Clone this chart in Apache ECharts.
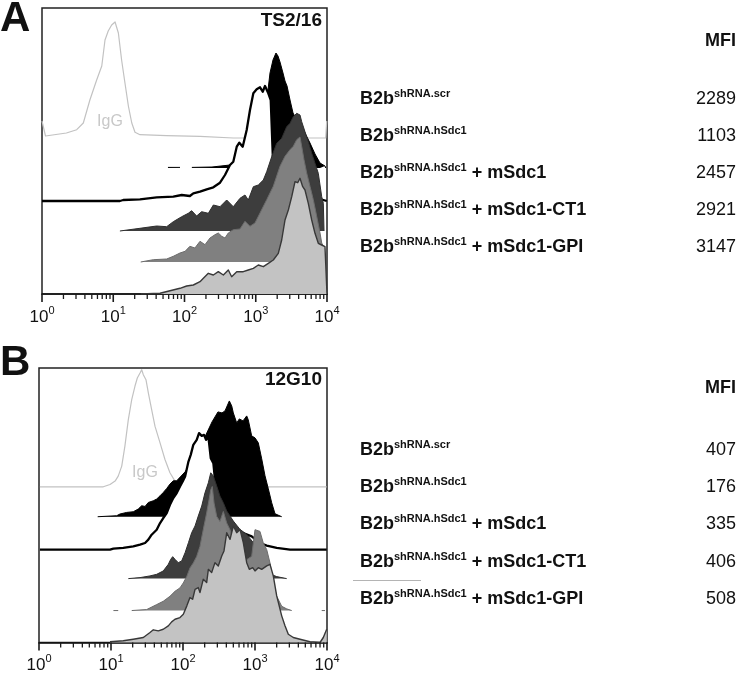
<!DOCTYPE html>
<html>
<head>
<meta charset="utf-8">
<script src="https://cdn.jsdelivr.net/npm/echarts@6/dist/echarts.min.js"></script>
<style>html,body{margin:0;padding:0;background:#fff}#c{width:745px;height:674px}</style>
</head>
<body>
<div id="c"></div>
<script>
// ---------------- data ----------------
const decadeTicks = [1, 10, 100, 1000, 10000];
const minorTickValues = [2,3,4,5,6,7,8,9,20,30,40,50,60,70,80,90,200,300,400,500,600,700,800,900,2000,3000,4000,5000,6000,7000,8000,9000];
const panelLetters = ['A', 'B'];
const antibodies = ['TS2/16', '12G10'];
const rowBase = 'B2b';
const rowSup = ['shRNA.scr', 'shRNA.hSdc1', 'shRNA.hSdc1', 'shRNA.hSdc1', 'shRNA.hSdc1'];
const rowSuffix = ['', '', ' + mSdc1', ' + mSdc1-CT1', ' + mSdc1-GPI'];
const mfiA = [2289, 1103, 2457, 2921, 3147];
const mfiB = [407, 176, 335, 406, 508];
// vertical offsets of the stacked histograms (IgG, scr, hSdc1, +mSdc1, +CT1, +GPI)
const offsetsA = [156, 126, 93, 63, 32, 0];
const offsetsB = [156, 126, 93, 64, 32, 0];

// Panel A histograms: [fluorescence, count]
const A_igg = [[1.0,17],[1.12,2],[2.2,5],[3.07,8.3],[3.8,15],[4.7,38],[5.85,58],[6.9,72],[7.66,98],[8.5,107],[9.5,113],[10.6,116],[11.8,105],[13.1,78],[14.6,55],[16.3,32],[18.2,15],[20.2,5.7],[23.7,3.3],[56,2.3],[165,1.7],[484,0],[9600,0],[9906,17]];
const A_scr = [[58.6,0.6],[86.5,0.6],[100,null],[127,0.6],[243,1],[435,3],[706,8],[975,20],[1224,45],[1393,65],[1486,78],[1585,95],[1746,108],[1923,115],[2052,112],[2189,106],[2412,95],[2574,87],[2747,82],[3027,68],[3336,55],[3797,48],[4178,45],[4909,35],[5773,25],[6787,14],[7977,5],[9370,2],[9600,0]];
const A_hsdc1 = [[1,0],[12.4,0],[13.8,1],[23.7,1.7],[40.7,3.7],[69.6,4.3],[91.4,6],[119,5],[133,7.7],[165,9.3],[205,11.7],[254,13.7],[315,18.3],[370,26],[435,36],[484,39.3],[541,54.3],[588,58.3],[656,54.3],[746,71],[830,91],[925,107.7],[1030,111.7],[1148,113.7],[1253,109.3],[1349,115],[1500,107.7],[1622,101],[1746,40],[2052,25],[3027,10],[4909,5],[7977,2],[9906,0]];
const A_msdc1 = [[12.4,0],[23.7,2.7],[40.7,5],[56.2,4.3],[69.6,9.3],[91.4,14.3],[113,17.7],[126,20.3],[148,15],[174,19.3],[216,17.7],[254,26],[315,24.3],[391,31],[484,24.3],[601,32.7],[706,36],[786,31],[925,44.3],[1086,46],[1277,51],[1425,59.3],[1675,74.3],[1967,87.7],[2312,92.7],[2719,104.3],[3027,107.7],[3365,114.3],[3756,117.7],[4178,116],[4415,109.3],[4909,99.3],[5466,89.3],[6100,77.7],[6787,67.7],[7551,57.7],[8428,34.3],[8879,27.7],[9081,0]];
const A_ct1 = [[24.3,0],[36.5,2.3],[56.2,3],[69.6,5.7],[86.5,9],[102,10.7],[119,15.7],[140,14],[165,20.7],[194,17.3],[228,24],[268,27.3],[298,29],[333,25.7],[370,24],[412,29],[484,32.3],[601,33],[706,40.7],[830,35.7],[975,39],[1148,49],[1425,62.3],[1763,75.7],[2189,95.7],[2574,105.7],[3027,112.3],[3365,115.7],[3756,122.3],[4178,125],[4415,115.7],[4755,102.3],[5187,89],[5773,75.7],[6425,62.3],[7168,45.7],[7977,29],[8428,19],[8879,15.7],[9081,0]];
const A_gpi = [[24.3,0],[45.3,0.7],[62.6,3.3],[86.5,5.7],[107,8],[133,9],[165,12.3],[184,15.7],[216,20.7],[254,19],[298,22.3],[351,19],[412,24],[459,17.3],[541,22.3],[668,22.3],[786,24],[925,25.7],[1086,29],[1277,27.3],[1500,30.7],[1763,34],[2072,40.7],[2312,54],[2574,74],[2866,84],[3198,97.3],[3555,112.3],[3880,111.3],[4178,115.7],[4561,107.3],[4909,104],[5466,90.7],[6100,74],[6787,60.7],[7551,50.7],[8428,49],[9370,47.3],[9906,47],[10000,0]];

// Panel B histograms
const B_igg = [[1.03,0],[7.82,0],[9.69,2.3],[11.4,5.7],[12.6,10.7],[14.1,20.7],[15.6,40.7],[17.4,67.3],[19.4,87.3],[21.5,100.7],[23.2,109],[25.3,114],[26.7,117.3],[28.1,112.3],[30.6,107.3],[33,94],[36.7,77.3],[40.8,60.7],[48,44],[56.2,27.3],[65.9,14],[77.4,5.7],[95.9,1.3],[172,0],[9906,0]];
const B_scr = [[6.53,0],[12,1],[13.3,2.7],[16.5,4.3],[20.4,5],[23.9,7.7],[26.7,11],[29.7,10.3],[33,14.3],[38.7,16],[43.1,17.7],[48,21],[53.2,24.3],[59.4,28.3],[65.9,32.7],[73.3,36],[81.8,36],[107,45],[147,60],[202,80],[253,95],[306,105],[348,104],[383,106],[440,116],[475,111],[500,104],[557,94],[606,98],[681,96],[767,101],[807,97],[899,81],[1000,79],[1111,74],[1239,58],[1377,41],[1531,28],[1706,14],[1896,3],[2349,0]];
const B_hsdc1 = [[1.03,0],[9.69,0],[10.8,1],[14.8,1.7],[20.4,3.3],[25.3,5],[29.7,6.7],[33,10],[36.7,15],[43.1,20],[48,26.7],[53.2,31.7],[59.4,36.7],[65.9,45],[73.3,51.7],[81.8,56.7],[90.8,63.3],[99,68.3],[107,73.3],[119,88.3],[128,95],[139,105],[155,110],[167,116.7],[182,114],[196,115],[209,110],[225,113.3],[243,91.7],[264,86.7],[287,60],[326,45],[450,30],[619,18],[899,13.3],[1172,6.7],[1455,4],[2002,1.7],[3062,0],[9906,0]];
const B_msdc1 = [[17.4,0],[25.3,1],[34.8,2.7],[43.1,4.3],[53.2,7.7],[62.5,14.3],[67.5,19.3],[71.9,22],[77.4,19.3],[86,16],[95.9,17.7],[107,26],[119,36],[132,46],[147,52.7],[163,62.7],[182,72.7],[202,86],[225,96],[243,106],[264,102.7],[294,92.7],[326,82.7],[363,76],[405,67.7],[450,62.7],[500,57.7],[619,49.3],[767,44.3],[947,36],[1172,16],[1455,6],[2002,2],[2756,0]];
const B_ct1 = [[10.8,0],[12.6,0],[15,null],[19.4,0],[31.3,1],[43.1,6],[53.2,9.3],[65.9,14.3],[77.4,19.3],[90.8,22.7],[101,27.7],[113,34.3],[125,42.7],[139,47.7],[155,54.3],[172,64.3],[191,81],[213,97.7],[230,111],[243,121],[255,124.3],[270,107.7],[294,94.3],[326,89.3],[363,99.3],[405,87.7],[450,81],[500,67.7],[557,64.3],[619,57.7],[767,51],[899,54.3],[1000,81],[1172,79.3],[1303,67.7],[1455,61],[1616,47.7],[1795,27.7],[2002,14.3],[2349,4.3],[2756,1.7],[3236,0],[5000,null],[8440,0],[9376,0]];
const B_gpi = [[9.69,0.7],[14.8,1.7],[20.4,3.3],[28.1,5],[34.8,10],[38.7,12.7],[45.4,11.7],[53.2,13.3],[62.5,16.7],[69.6,20.7],[77.4,23.3],[90.8,25],[101,28.3],[113,36.7],[125,45],[136,43.3],[147,53.3],[163,55],[172,50],[191,63.3],[213,60],[225,73.3],[250,70],[278,80],[309,76.7],[345,86.7],[371,91.7],[405,110],[450,103.3],[500,116.7],[557,110],[619,113.3],[688,100],[767,80],[833,73.3],[929,75],[1000,71.7],[1111,75],[1239,73.3],[1455,76.7],[1616,78.3],[1795,66.7],[2002,46.7],[2349,26.7],[2610,16.7],[2902,8.3],[3404,5],[4217,3.3],[5805,0.7],[7997,0],[8886,5],[9906,13.3]];

const setsA = [A_igg, A_scr, A_hsdc1, A_msdc1, A_ct1, A_gpi];
const setsB = [B_igg, B_scr, B_hsdc1, B_msdc1, B_ct1, B_gpi];

// ---------------- rendering ----------------
const FONT = '"Liberation Sans", Arial, Helvetica, sans-serif';
const styles = [
  {line: '#c2c2c2', width: 1.2, fill: null},
  {line: '#000000', width: 1, fill: '#000000'},
  {line: '#000000', width: 2.3, fill: '#ffffff'},
  {line: '#2e2e2e', width: 1, fill: '#3d3d3d'},
  {line: '#6c6c6c', width: 1, fill: '#808080'},
  {line: '#383838', width: 1.4, fill: '#c3c3c3'}
];

function toSeriesData(points, offset) {
  return points.map(p => p[1] === null ? [p[0], '-'] : [p[0], p[1] + offset]);
}

function makeSeries(sets, offsets, gi) {
  return sets.map((pts, i) => {
    const s = {
      type: 'line', xAxisIndex: gi, yAxisIndex: gi,
      data: toSeriesData(pts, offsets[i]),
      showSymbol: false, symbol: 'none', silent: true, animation: false,
      connectNulls: false, z: 2 + i,
      lineStyle: {color: styles[i].line, width: styles[i].width, join: 'round'}
    };
    if (styles[i].fill) s.areaStyle = {color: styles[i].fill, opacity: 1, origin: offsets[i]};
    return s;
  });
}

// tick marks below the axis line: thin rect symbols placed by the log scale
function tickSeries(gi, values, len, w) {
  return {
    type: 'scatter', xAxisIndex: gi, yAxisIndex: gi, silent: true, animation: false,
    clip: false, z: 20,
    data: values.map(v => [v, 0]),
    symbol: 'rect', symbolSize: [w, len], symbolOffset: [0, len / 2],
    itemStyle: {color: '#1a1a1a', opacity: 1}
  };
}

function logAxis(g) {
  return {
    type: 'log', logBase: 10, gridIndex: g, min: 1, max: 10000,
    axisLine: {show: true, onZero: false, lineStyle: {color: '#111', width: 1.5}},
    axisTick: {show: false},
    splitLine: {show: false}, minorTick: {show: false},
    axisLabel: {
      margin: 11,
      formatter: v => '{b|10}{s|' + Math.round(Math.log10(v)) + '}',
      rich: {
        b: {fontSize: 17, fontFamily: FONT, color: '#111', lineHeight: 24},
        s: {fontSize: 11, fontFamily: FONT, color: '#111', verticalAlign: 'top'}
      }
    }
  };
}

const graphic = [];
function addText(x, y, text, opts) {
  graphic.push({type: 'text', x: x, y: y, silent: true, z: 100,
    style: Object.assign({text: text, fontFamily: FONT, fill: '#111', verticalAlign: 'middle', align: 'left'}, opts)});
}
const richRow = {
  b: {fontSize: 18, fontWeight: 'bold', fontFamily: FONT, color: '#111', lineHeight: 22},
  s: {fontSize: 11, fontWeight: 'bold', fontFamily: FONT, color: '#111', verticalAlign: 'top'}
};
function rowText(i) {
  let t = '{b|' + rowBase + '}{s|' + rowSup[i] + '}';
  if (rowSuffix[i]) t += '{b|' + rowSuffix[i] + '}';
  return t;
}

// panel letters, antibody names
addText(0, 19, panelLetters[0], {fontSize: 42, fontWeight: 'bold'});
addText(0, 363, panelLetters[1], {fontSize: 42, fontWeight: 'bold'});
addText(322, 21, antibodies[0], {fontSize: 19, fontWeight: 'bold', align: 'right'});
addText(322, 380, antibodies[1], {fontSize: 19, fontWeight: 'bold', align: 'right'});
addText(110, 122, 'IgG', {fontSize: 16, fill: '#c8c8c8', align: 'center'});
addText(145, 473, 'IgG', {fontSize: 16, fill: '#c8c8c8', align: 'center'});

// MFI tables
const rowsA = [99, 136, 173, 210, 247];
const rowsB = [450, 487, 524, 562, 599];
addText(736, 41, 'MFI', {fontSize: 18, fontWeight: 'bold', align: 'right'});
addText(736, 388, 'MFI', {fontSize: 18, fontWeight: 'bold', align: 'right'});
for (let i = 0; i < 5; i++) {
  addText(360, rowsA[i], rowText(i), {rich: richRow});
  addText(736, rowsA[i], String(mfiA[i]), {fontSize: 18, align: 'right'});
  addText(360, rowsB[i], rowText(i), {rich: richRow});
  addText(736, rowsB[i], String(mfiB[i]), {fontSize: 18, align: 'right'});
}
graphic.push({type: 'line', silent: true, shape: {x1: 353, y1: 580.5, x2: 421, y2: 580.5}, style: {stroke: '#b4b4b4', lineWidth: 1}});

const series = makeSeries(setsA, offsetsA, 0).concat(makeSeries(setsB, offsetsB, 1));
[0, 1].forEach(g => {
  series.push(tickSeries(g, decadeTicks, 8, 1.6));
  series.push(tickSeries(g, minorTickValues, 5, 1.3));
});

const chart = echarts.init(document.getElementById('c'));
chart.setOption({
  animation: false,
  backgroundColor: '#ffffff',
  grid: [
    {left: 42, top: 8, width: 285, height: 286, show: true, borderColor: '#222', borderWidth: 1.5, backgroundColor: 'rgba(0,0,0,0)'},
    {left: 39, top: 368, width: 288, height: 275, show: true, borderColor: '#222', borderWidth: 1.5, backgroundColor: 'rgba(0,0,0,0)'}
  ],
  xAxis: [logAxis(0), logAxis(1)],
  yAxis: [
    {type: 'value', gridIndex: 0, min: 0, max: 286, show: false},
    {type: 'value', gridIndex: 1, min: 0, max: 275, show: false}
  ],
  series: series,
  graphic: graphic
});
</script>
</body>
</html>
